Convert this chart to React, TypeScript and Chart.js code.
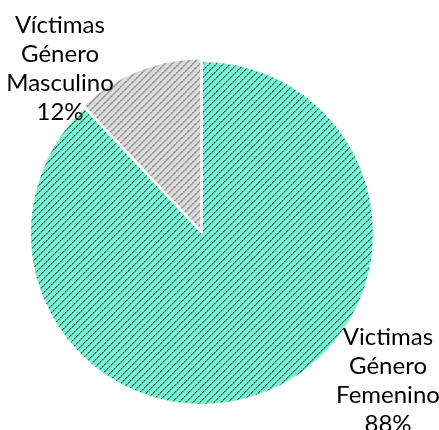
import React, { useEffect, useRef } from "react";
import { Chart, registerables } from "chart.js";

Chart.register(...registerables);

const categories = ["Victimas Género Femenino", "Víctimas Género Masculino"];
const values = [88, 12];
const percentLabels = ["88%", "12%"];
const labelLines = [
  ["Victimas", "Género", "Femenino"],
  ["Víctimas", "Género", "Masculino"],
];

function makePattern(light: string, dark: string, mid: string): CanvasPattern | string {
  const size = 7;
  const c = document.createElement("canvas");
  c.width = size;
  c.height = size;
  const ctx = c.getContext("2d");
  if (!ctx) return light;
  ctx.fillStyle = light;
  ctx.fillRect(0, 0, size, size);
  for (let i = 0; i < size; i++) {
    const y = size - 1 - i;
    ctx.fillStyle = i % 2 === 0 ? dark : mid;
    ctx.fillRect(i, y, 1, 1);
    ctx.fillStyle = mid;
    ctx.fillRect((i + 1) % size, y, 1, 1);
  }
  const p = ctx.createPattern(c, "repeat");
  return p || light;
}

const labelPlugin = {
  id: "sliceLabels",
  afterDraw(chart: any) {
    const ctx = chart.ctx;
    const meta = chart.getDatasetMeta(0);
    const area = chart.chartArea;
    const cx = (area.left + area.right) / 2;
    const cy = (area.top + area.bottom) / 2;
    const anchors = [
      { dx: 186, dy: 104 },
      { dx: -142, dy: -208 },
    ];
    ctx.save();
    ctx.fillStyle = "#000000";
    ctx.font = "24px Lato";
    ctx.textAlign = "center";
    ctx.textBaseline = "middle";
    const lh = 29;
    meta.data.forEach((_arc: any, i: number) => {
      const lines = [...labelLines[i], percentLabels[i]];
      const x = cx + anchors[i].dx;
      const y = cy + anchors[i].dy;
      lines.forEach((t, j) => ctx.fillText(t, x, y + j * lh));
    });
    ctx.restore();
  },
};

export default function App() {
  const ref = useRef<HTMLCanvasElement>(null);
  useEffect(() => {
    if (!ref.current) return;
    const green = makePattern("#80eed3", "#0b6e55", "#45b596");
    const gray = makePattern("#dcdcdc", "#6e6e6e", "#a8a8a8");
    const chart = new Chart(ref.current, {
      type: "pie",
      data: {
        labels: categories,
        datasets: [
          {
            data: values,
            backgroundColor: [green as any, gray as any],
            borderColor: "#ffffff",
            borderWidth: 2,
            offset: [0, 8],
            radius: 172,
          } as any,
        ],
      },
      options: {
        responsive: false,
        animation: false,
        layout: { padding: { left: 0, right: 35, top: 36, bottom: 0 } },
        plugins: {
          legend: { display: false },
          tooltip: { enabled: false },
        },
      },
      plugins: [labelPlugin],
    });
    return () => chart.destroy();
  }, []);
  return (
    <div style={{ position: "fixed", left: 0, top: 0, width: 439, height: 430, background: "#fff" }}>
      <canvas ref={ref} width={439} height={430} style={{ width: 439, height: 430, display: "block" }} />
    </div>
  );
}
